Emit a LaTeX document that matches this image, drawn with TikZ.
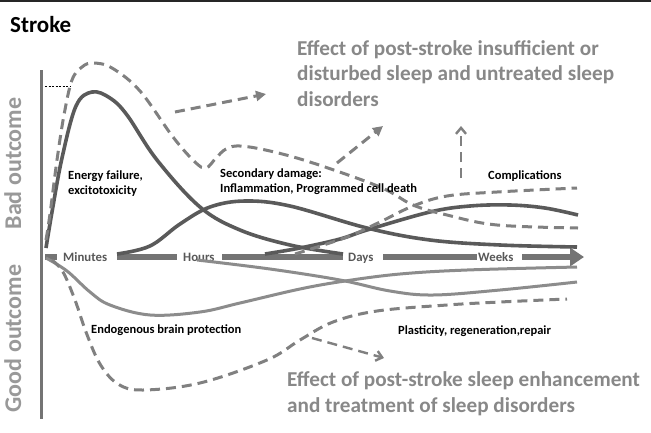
\documentclass[tikz,border=0pt]{standalone}
\usepackage{fontspec}
\setmainfont{Carlito}
\usetikzlibrary{arrows.meta}
\definecolor{darkc}{HTML}{5A5A5A}
\definecolor{lightc}{HTML}{8C8C8C}
\definecolor{dashc}{HTML}{808080}
\definecolor{barc}{HTML}{747474}
\definecolor{txtgray}{HTML}{888888}
\definecolor{sidegray}{HTML}{999999}
\definecolor{timec}{HTML}{585858}
\tikzset{
  darkcurve/.style={draw=darkc, line width=3.6pt},
  lightcurve/.style={draw=lightc, line width=3pt},
  dashcurve/.style={draw=dashc, line width=3pt, dash pattern=on 10pt off 6pt},
  timebar/.style={draw=barc, line width=6.5pt},
  timelabel/.style={anchor=base west, inner sep=0pt, font=\bfseries\fontsize{12.8}{14}\selectfont, text=timec},
  smalllabel/.style={anchor=base west, inner sep=0pt, align=left, font=\bfseries\fontsize{12.5}{15}\selectfont, text=black},
  effectlabel/.style={anchor=base west, inner sep=0pt, align=left, font=\bfseries\fontsize{21.2}{25.5}\selectfont, text=txtgray},
  sidelabel/.style={rotate=90, anchor=base, inner sep=0pt, font=\bfseries\fontsize{24}{26}\selectfont, text=sidegray},
}
\begin{document}
\begin{tikzpicture}[x=1pt,y=-1pt]
\useasboundingbox[fill=white] (0,0) rectangle (651,432);
% top border
\draw[draw=black!85, line width=2pt] (0,1) -- (651,1);
% title
\node[anchor=base west, inner sep=0pt, font=\bfseries\fontsize{23}{26}\selectfont] (title) at (10,32) {Stroke};
% side labels
\node[sidelabel] (bad) at (21,163.5) {Bad outcome};
\node[sidelabel] (good) at (21,338.5) {Good outcome};
% vertical axis
\draw[draw=barc, line width=3pt] (41,70) -- (41,419);
\draw[black, line width=0.6pt, dash pattern=on 2pt off 1.5pt] (45,86) -- (70,86);
% time bar
\draw[timebar] (45,257) -- (57,257);
\draw[timebar] (117,257) -- (177,257);
\draw[timebar] (222,257) -- (343,257);
\draw[timebar] (383,257) -- (477,257);
\draw[timebar, -{Triangle[length=14pt,width=18pt]}] (522,257) -- (584,257);
\node[timelabel] (minutes) at (63,261.5) {Minutes};
\node[timelabel] (hours) at (183,261.5) {Hours};
\node[timelabel] (days) at (348,261.5) {Days};
\node[timelabel] (weeks) at (478,261.5) {Weeks};
% dark solid curves
\draw[darkcurve] plot[smooth, tension=0.6] coordinates {(46,248) (52,212) (62,158) (76,106) (92,92) (110,98) (127,115) (157,160) (200,207) (240,230) (290,245) (343,254)};
\draw[darkcurve] plot[smooth, tension=0.6] coordinates {(117,254) (150,246) (180,224) (210,207) (245,201) (290,206) (367,228) (430,240) (500,245) (577,247)};
\draw[darkcurve] plot[smooth, tension=0.6] coordinates {(265,254) (300,248) (340,239) (367,230) (430,212) (470,206) (510,205) (545,208) (578,215)};
% light solid curves
\draw[lightcurve] plot[smooth, tension=0.6] coordinates {(46,258) (67,271) (90,292) (110,305) (150,315) (200,312) (240,303) (300,289) (345,281) (400,274) (467,270) (577,267)};
\draw[lightcurve] plot[smooth, tension=0.6] coordinates {(197,260) (270,269) (340,280) (390,291) (433,295) (500,290) (577,282)};
% dashed curves
\draw[dashcurve] plot[smooth, tension=0.6] coordinates {(46,240) (50,214) (57,160) (64,115) (72,80) (82,67) (93,63) (112,68) (140,91) (173,137) (195,162) (206,168) (216,158) (226,149) (240,146) (270,151) (313,163) (380,187) (413,205) (447,215) (497,225) (578,228)};
\draw[dashcurve] plot[smooth, tension=0.6] coordinates {(295,254) (347,237) (380,222) (413,206) (447,196) (497,192) (577,188)};
\draw[dashcurve] plot[smooth, tension=0.6] coordinates {(52,260) (63,272) (75,300) (86,332) (100,364) (118,384) (143,390) (200,383) (267,360) (300,340) (333,322) (377,311) (447,305) (500,302) (567,299)};
% arrows
\coordinate (a1s) at (175,112); \coordinate (a1e) at (266,94);
\coordinate (a2s) at (337,163); \coordinate (a2e) at (383,126);
\coordinate (a3s) at (461,178); \coordinate (a3e) at (461,126);
\coordinate (a4s) at (312,338); \coordinate (a4e) at (384,358);
\draw[dashcurve, -{Triangle[length=10pt,width=10pt]}] (a1s) -- (a1e);
\draw[dashcurve, -{Triangle[length=10pt,width=10pt]}] (a2s) -- (a2e);
\draw[dashcurve, line width=2.4pt, -{Straight Barb[length=6pt,width=10pt]}] (a3s) -- (a3e);
\draw[dashcurve, line width=2.4pt, -{Straight Barb[length=6pt,width=10pt]}] (a4s) -- (a4e);
% labels (base anchor = last line baseline)
\node[effectlabel] (effbad) at (297,106) {Effect of post-stroke insufficient or\\disturbed sleep and untreated sleep\\disorders};
\node[effectlabel] (effgood) at (287,412) {Effect of post-stroke sleep enhancement\\and treatment of sleep disorders};
\node[smalllabel] (energy) at (68,194) {Energy failure,\\excitotoxicity};
\node[smalllabel] (second) at (220,192) {Secondary damage:\\Inflammation, Programmed cell death};
\node[smalllabel] (compl) at (488,179) {Complications};
\node[smalllabel] (endo) at (91,333) {Endogenous brain protection};
\node[smalllabel] (plast) at (398,334) {Plasticity, regeneration,repair};
\end{tikzpicture}
\end{document}
